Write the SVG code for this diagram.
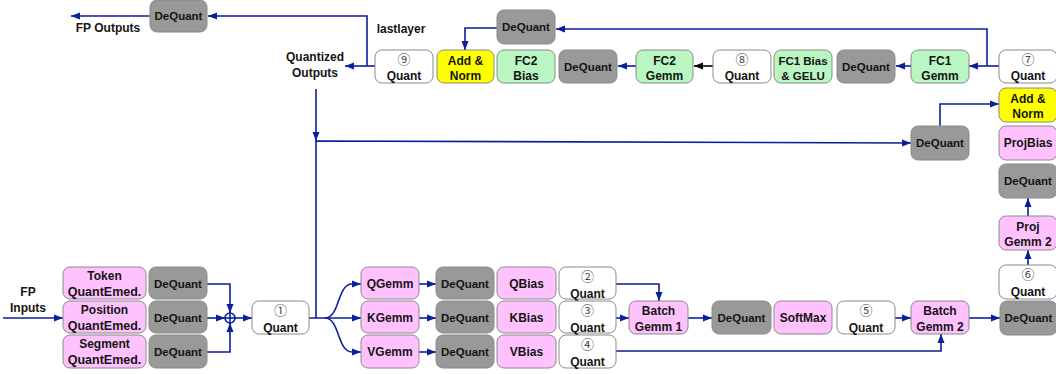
<svg xmlns="http://www.w3.org/2000/svg" width="1056" height="374" viewBox="0 0 1056 374">
<style>
  .n rect{stroke:#8a8a8a;stroke-width:1}
  .pink rect{fill:#ffc2ff}
  .gray rect{fill:#999999}
  .green rect{fill:#b9f6c2}
  .yellow rect{fill:#ffff00}
  .white rect{fill:#ffffff}
  text{font-family:"Liberation Sans",Arial,sans-serif;font-size:12px;font-weight:bold;fill:#141414;text-anchor:middle}
  .gray text,.sm{font-size:11.5px}
  .emb{font-size:12.5px}
  .num{font-family:"Noto Sans CJK SC","DejaVu Sans",sans-serif;font-weight:normal;font-size:13px;fill:#444}
  .c path,.c line{fill:none;stroke:#0b1f9c;stroke-width:1.6}
  .c .blk{stroke:#000}
</style>
<defs>
  <marker id="a" markerUnits="userSpaceOnUse" markerWidth="10" markerHeight="8" refX="9" refY="4" orient="auto">
    <path d="M0,0.5 L9,4 L0,7.5 z" fill="#0b1f9c"/>
  </marker>
  <marker id="ak" markerUnits="userSpaceOnUse" markerWidth="10" markerHeight="8" refX="9" refY="4" orient="auto">
    <path d="M0,0.5 L9,4 L0,7.5 z" fill="#000"/>
  </marker>
</defs>

<!-- free labels -->
<text x="108" y="32">FP Outputs</text>
<text x="315" y="61">Quantized</text>
<text x="315" y="77">Outputs</text>
<text x="401" y="33">lastlayer</text>
<text x="28" y="296">FP</text>
<text x="28" y="312">Inputs</text>

<g class="c" id="connectors">
  <path d="M150,16 L71,16" marker-end="url(#a)"/>
  <path d="M367,66 V16 H208" marker-end="url(#a)"/>
  <path d="M375,66 L345,66" marker-end="url(#a)"/>
  <path d="M316,89 V141" marker-end="url(#a)"/>
  <path d="M316,318 V141 L911,143" marker-end="url(#a)"/>
  <path d="M940,126 V104 H999" marker-end="url(#a)"/>
  <path d="M999,66 L969,66" marker-end="url(#a)"/>
  <path d="M987,66 V29 H556" marker-end="url(#a)"/>
  <path d="M497,28 H465 V50" marker-end="url(#a)"/>
  <path d="M911,66 L896,66" marker-end="url(#a)"/>
  <path class="blk" d="M713,66 L694,66" marker-end="url(#ak)"/>
  <path d="M636,66 L618,66" marker-end="url(#a)"/>
  <path d="M1028,265 V250" marker-end="url(#a)"/>
  <path d="M1028,216 V198" marker-end="url(#a)"/>
  <path d="M3,318 L63,318" marker-end="url(#a)"/>
  <path d="M207,284 H230 V313" marker-end="url(#a)"/>
  <path d="M207,318 L225,318" marker-end="url(#a)"/>
  <path d="M207,352 H230 V323" marker-end="url(#a)"/>
  <circle cx="230" cy="318" r="5" fill="#fff" stroke="#0b1f9c" stroke-width="1.6"/>
  <line x1="225" y1="318" x2="235" y2="318"/>
  <line x1="230" y1="313" x2="230" y2="323"/>
  <path d="M235,318 L252,318" marker-end="url(#a)"/>
  <path d="M309,318 L361,318" marker-end="url(#a)"/>
  <path d="M325,318 C340,318 337,284 352,284 L361,284" marker-end="url(#a)"/>
  <path d="M325,318 C340,318 337,352 352,352 L361,352" marker-end="url(#a)"/>
  <path d="M419,284 L436,284" marker-end="url(#a)"/>
  <path d="M419,318 L436,318" marker-end="url(#a)"/>
  <path d="M419,352 L436,352" marker-end="url(#a)"/>
  <path d="M616,284 H659 V301" marker-end="url(#a)"/>
  <path d="M616,318 L629,318" marker-end="url(#a)"/>
  <path d="M616,351 H941 V334" marker-end="url(#a)"/>
  <path d="M688,318 L712,318" marker-end="url(#a)"/>
  <path d="M895,318 L911,318" marker-end="url(#a)"/>
  <path d="M969,318 L1000,318" marker-end="url(#a)"/>
</g>

<!-- top row -->
<g id="dq_out" class="n gray"><rect x="150" y="0" width="57" height="32" rx="7"/><text x="178.5" y="20">DeQuant</text></g>
<g id="quant9" class="n white"><rect x="375" y="50" width="58" height="33" rx="7"/><text class="num" x="404" y="64">⑨</text><text x="404" y="79.5">Quant</text></g>
<g id="addnorm_top" class="n yellow"><rect x="437" y="50" width="57" height="33" rx="7"/><text x="465.5" y="64.5">Add &amp;</text><text x="465.5" y="79.5">Norm</text></g>
<g id="fc2bias" class="n green"><rect x="497" y="50" width="58" height="33" rx="7"/><text x="526" y="64.5">FC2</text><text x="526" y="79.5">Bias</text></g>
<g id="dq_fc2" class="n gray"><rect x="559" y="50" width="58" height="33" rx="7"/><text x="588" y="70.5">DeQuant</text></g>
<g id="dq_restop" class="n gray"><rect x="497" y="10" width="58" height="34" rx="7"/><text x="526" y="31">DeQuant</text></g>
<g id="fc2gemm" class="n green"><rect x="636" y="50" width="57" height="33" rx="7"/><text x="664.5" y="64.5">FC2</text><text x="664.5" y="79.5">Gemm</text></g>
<g id="quant8" class="n white"><rect x="713" y="50" width="58" height="33" rx="7"/><text class="num" x="742" y="64">⑧</text><text x="742" y="79.5">Quant</text></g>
<g id="fc1bias" class="n green"><rect x="774" y="50" width="58" height="33" rx="7"/><text class="sm" x="803" y="64.5">FC1 Bias</text><text class="sm" x="803" y="79.5">&amp; GELU</text></g>
<g id="dq_fc1" class="n gray"><rect x="837" y="50" width="58" height="33" rx="7"/><text x="866" y="70.5">DeQuant</text></g>
<g id="fc1gemm" class="n green"><rect x="911" y="50" width="58" height="33" rx="7"/><text x="940" y="64.5">FC1</text><text x="940" y="79.5">Gemm</text></g>
<g id="quant7" class="n white"><rect x="999" y="50" width="58" height="33" rx="7"/><text class="num" x="1028" y="64">⑦</text><text x="1028" y="79.5">Quant</text></g>

<!-- right column -->
<g id="addnorm_r" class="n yellow"><rect x="999" y="88" width="58" height="34" rx="7"/><text x="1028" y="102.5">Add &amp;</text><text x="1028" y="117.5">Norm</text></g>
<g id="projbias" class="n pink"><rect x="999" y="126" width="58" height="34" rx="7"/><text x="1028" y="147">ProjBias</text></g>
<g id="dq_proj" class="n gray"><rect x="999" y="164" width="58" height="34" rx="7"/><text x="1028" y="185">DeQuant</text></g>
<g id="projgemm2" class="n pink"><rect x="999" y="216" width="58" height="34" rx="7"/><text x="1028" y="230.5">Proj</text><text x="1028" y="245.5">Gemm 2</text></g>
<g id="quant6" class="n white"><rect x="999" y="265" width="58" height="34" rx="7"/><text class="num" x="1028" y="279">⑥</text><text x="1028" y="295.5">Quant</text></g>
<g id="dq_res" class="n gray"><rect x="911" y="126" width="58" height="34" rx="7"/><text x="940" y="147">DeQuant</text></g>

<!-- bottom -->
<g id="token" class="n pink"><rect x="63" y="267" width="83" height="32" rx="7"/><text x="104.5" y="280">Token</text><text class="emb" x="104.5" y="295.5">QuantEmed.</text></g>
<g id="position" class="n pink"><rect x="63" y="301" width="83" height="32" rx="7"/><text x="104.5" y="314">Position</text><text class="emb" x="104.5" y="329.5">QuantEmed.</text></g>
<g id="segment" class="n pink"><rect x="63" y="335" width="83" height="33" rx="7"/><text x="104.5" y="348">Segment</text><text class="emb" x="104.5" y="363.5">QuantEmed.</text></g>
<g id="dq_tok" class="n gray"><rect x="149" y="267" width="58" height="32" rx="7"/><text x="178" y="287.5">DeQuant</text></g>
<g id="dq_pos" class="n gray"><rect x="149" y="301" width="58" height="32" rx="7"/><text x="178" y="321.5">DeQuant</text></g>
<g id="dq_seg" class="n gray"><rect x="149" y="335" width="58" height="33" rx="7"/><text x="178" y="356">DeQuant</text></g>
<g id="quant1" class="n white"><rect x="252" y="301" width="57" height="33" rx="7"/><text class="num" x="280.5" y="315">①</text><text x="280.5" y="331.5">Quant</text></g>

<g id="qgemm" class="n pink"><rect x="361" y="267" width="58" height="32" rx="7"/><text x="390" y="287.5">QGemm</text></g>
<g id="kgemm" class="n pink"><rect x="361" y="301" width="58" height="32" rx="7"/><text x="390" y="321.5">KGemm</text></g>
<g id="vgemm" class="n pink"><rect x="361" y="335" width="58" height="33" rx="7"/><text x="390" y="356">VGemm</text></g>
<g id="dq_q" class="n gray"><rect x="436" y="267" width="58" height="32" rx="7"/><text x="465" y="287.5">DeQuant</text></g>
<g id="dq_k" class="n gray"><rect x="436" y="301" width="58" height="32" rx="7"/><text x="465" y="321.5">DeQuant</text></g>
<g id="dq_v" class="n gray"><rect x="436" y="335" width="58" height="33" rx="7"/><text x="465" y="356">DeQuant</text></g>
<g id="qbias" class="n pink"><rect x="497" y="267" width="59" height="32" rx="7"/><text x="526.5" y="287.5">QBias</text></g>
<g id="kbias" class="n pink"><rect x="497" y="301" width="59" height="32" rx="7"/><text x="526.5" y="321.5">KBias</text></g>
<g id="vbias" class="n pink"><rect x="497" y="335" width="59" height="33" rx="7"/><text x="526.5" y="356">VBias</text></g>
<g id="quant2" class="n white"><rect x="559" y="267" width="57" height="32" rx="7"/><text class="num" x="587.5" y="281">②</text><text x="587.5" y="297.5">Quant</text></g>
<g id="quant3" class="n white"><rect x="559" y="301" width="57" height="32" rx="7"/><text class="num" x="587.5" y="315">③</text><text x="587.5" y="331.5">Quant</text></g>
<g id="quant4" class="n white"><rect x="559" y="335" width="57" height="33" rx="7"/><text class="num" x="587.5" y="349">④</text><text x="587.5" y="365.5">Quant</text></g>

<g id="bg1" class="n pink"><rect x="629" y="301" width="59" height="33" rx="7"/><text x="658.5" y="315">Batch</text><text x="658.5" y="331">Gemm 1</text></g>
<g id="dq_sm" class="n gray"><rect x="712" y="301" width="59" height="33" rx="7"/><text x="741.5" y="322">DeQuant</text></g>
<g id="softmax" class="n pink"><rect x="774" y="301" width="58" height="33" rx="7"/><text x="803" y="322">SoftMax</text></g>
<g id="quant5" class="n white"><rect x="837" y="301" width="58" height="33" rx="7"/><text class="num" x="866" y="315">⑤</text><text x="866" y="331.5">Quant</text></g>
<g id="bg2" class="n pink"><rect x="911" y="301" width="58" height="33" rx="7"/><text x="940" y="315">Batch</text><text x="940" y="331">Gemm 2</text></g>
<g id="dq_bg2" class="n gray"><rect x="1000" y="301" width="57" height="34" rx="7"/><text x="1028.5" y="322">DeQuant</text></g>
</svg>
